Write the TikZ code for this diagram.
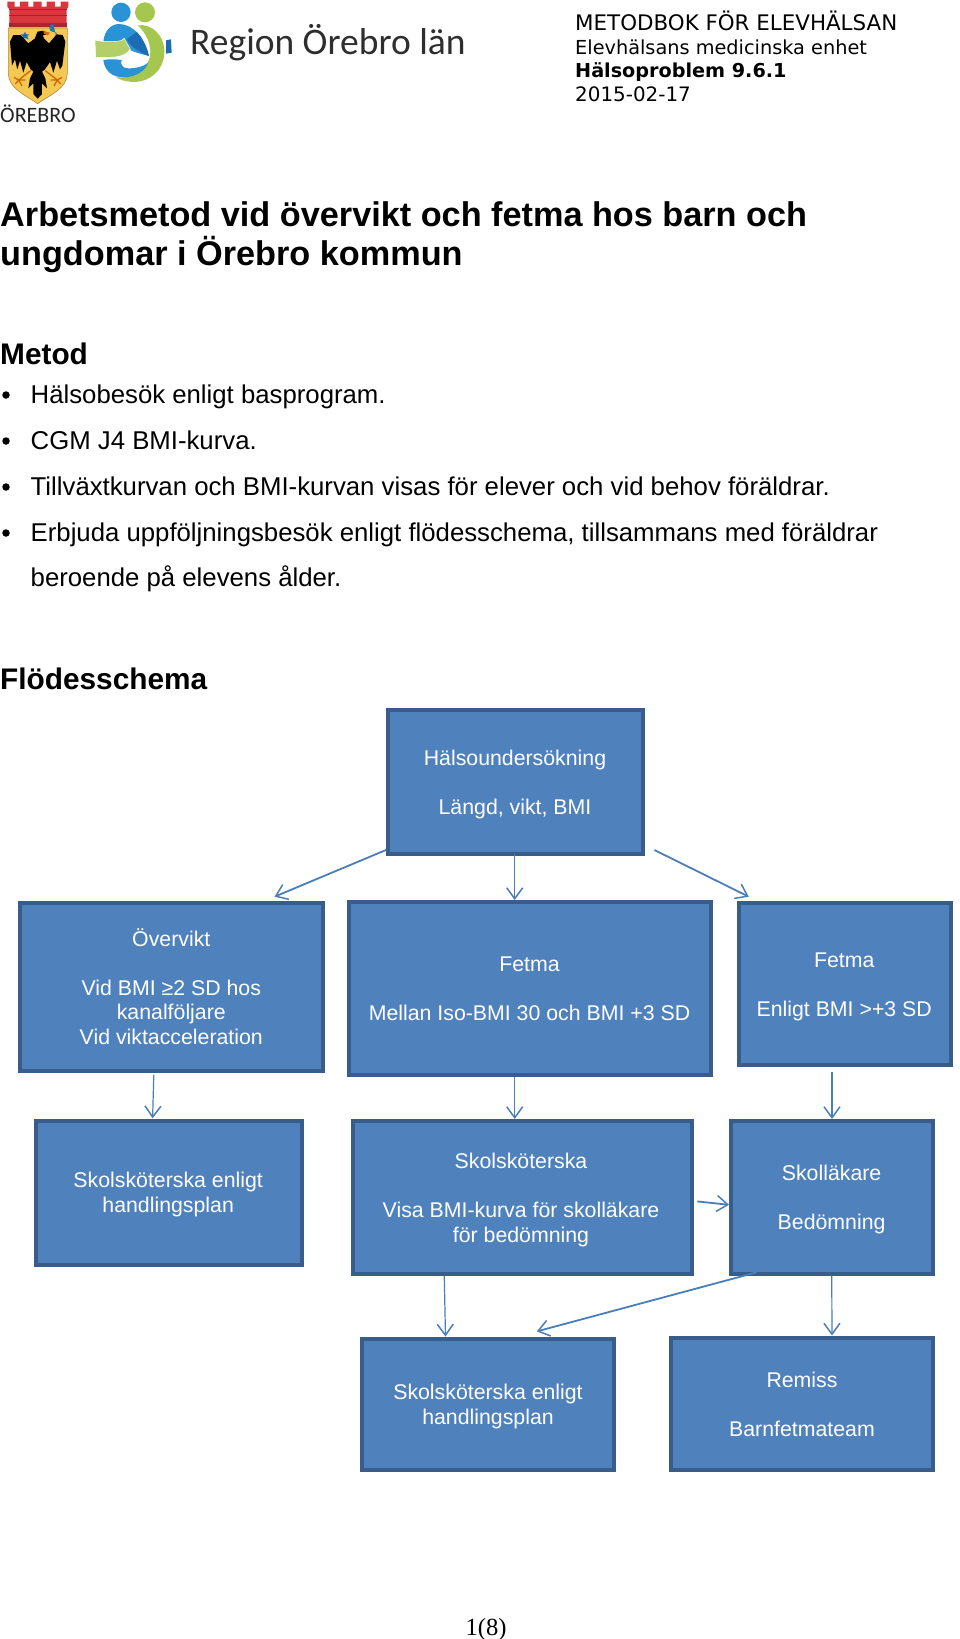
\documentclass[tikz,border=0pt]{standalone}
\usepackage{fontspec}
\setmainfont{Liberation Sans}
\newfontfamily\serifpg{Liberation Serif}
\newfontfamily\headfont{DejaVu Sans}
\newfontfamily\carl{Carlito}
\usetikzlibrary{arrows.meta}
\definecolor{boxfill}{HTML}{4F81BD}
\definecolor{boxline}{HTML}{385D8A}
\definecolor{arrowc}{HTML}{4A7EBB}
\definecolor{crownred}{HTML}{D9363E}
\definecolor{shieldy}{HTML}{F4C852}
\definecolor{logoblue}{HTML}{2A93D5}
\definecolor{logodark}{HTML}{1C6CB4}
\definecolor{logogreen}{HTML}{A5C750}
\tikzset{
  x=1pt,y=-1pt,
  flowbox/.style={draw=boxline,fill=boxfill,line width=4pt,outer sep=0pt,inner sep=0pt,rectangle},
  boxtext/.style={text=white,font=\fontsize{21.3}{24.6}\selectfont,align=center,inner sep=0pt},
  flowarrow/.style={draw=arrowc,line width=1.8pt,-{Straight Barb[length=11pt,width=16pt,line width=1.5pt]}},
  thinarrow/.style={flowarrow,line width=1.2pt},
  body/.style={anchor=base west,inner sep=0pt,font=\fontsize{25.75}{30}\selectfont},
  heading/.style={anchor=base west,inner sep=0pt,font=\fontsize{29.8}{34}\selectfont\bfseries},
  titletext/.style={anchor=base west,inner sep=0pt,font=\fontsize{34.25}{38}\selectfont\bfseries},
  headtext/.style={anchor=base west,inner sep=0pt,font=\fontsize{19.3}{23}\selectfont\headfont},
  bullet/.style={circle,fill=black,minimum size=7.5pt,inner sep=0pt},
}
\begin{document}
\begin{tikzpicture}
\useasboundingbox (0,0) rectangle (960,1639);
\fill[white] (0,0) rectangle (960,1639);
% crest
\begin{scope}[scale=1/3]
  \fill[crownred] (22,5)--(44,5)--(44,20)--(60,20)--(60,5)--(85,5)--(85,20)--(100,20)--(100,5)--(125,5)--(125,20)--(140,20)--(140,5)--(165,5)--(165,20)--(182,20)--(182,5)--(205,5)--(205,20)--(200,28)--(200,82)--(28,82)--(28,28)--(22,20)--cycle;
  \draw[crownred!70!black,line width=.5pt] (28,28)--(200,28) (28,45)--(200,45);
  \fill[crownred!75!black] (28,70) rectangle (200,82);
  \path[fill=shieldy,draw=shieldy!70!black,line width=.6pt] (25,84)--(202,84)--(202,220) .. controls (202,265) and (150,285) .. (113,311) .. controls (76,285) and (25,265) .. (25,220) --cycle;
  \fill[logodark] (75,96)--(79,103)--(87,103)--(82,110)--(86,118)--(75,114)--(65,118)--(69,110)--(63,103)--(71,103)--cycle;
  \fill[logoblue!80!black] (160,96) arc[start angle=90,end angle=270,radius=12] -- (170,118) arc[start angle=270,end angle=90,radius=9]--(170,98)--cycle;
  \draw[orange!80!black,line width=1.3pt] (92,212)--(56,240)--(42,232) (56,240)--(46,252) (56,240)--(66,258) (56,240)--(76,240);
  \draw[orange!80!black,line width=1.3pt] (136,212)--(172,240)--(186,232) (172,240)--(182,252) (172,240)--(162,258) (172,240)--(152,240);
  \fill[black] (105,115)--(85,130)--(62,105)--(40,105)--(30,125)--(36,197)--(45,178)--(52,208)--(60,182)--(70,218)--(80,186)--(92,208)--(100,215)--(90,235)--(85,265)--(100,250)--(100,282)--(113,296)--(126,282)--(126,250)--(141,265)--(136,235)--(126,215)--(135,208)--(150,186)--(160,218)--(171,182)--(180,208)--(187,197)--(196,125)--(188,105)--(170,103)--(147,130)--(132,115)--(128,106)--(148,102)--(130,92)--(112,95)--cycle;
  \fill[orange!85!black] (130,93)--(150,98)--(142,106)--(132,101)--cycle;
\end{scope}
\node[anchor=base west,inner sep=0pt,font=\fontsize{22}{24}\selectfont\carl,text=black!85] (orebro) at (0,122) {ÖREBRO};
% region logo
\begin{scope}[shift={(85,0)},scale=1/3]
  \fill[logoblue] (108,37) circle[radius=29];
  \fill[logogreen] (180,37) circle[radius=30];
  \fill[logodark] (243,121)--(258,118)--(260,158)--(243,161)--cycle;
  \fill[logogreen] (158,76) .. controls (200,70) and (240,105) .. (238,160) .. controls (235,215) and (190,245) .. (150,246) .. controls (125,246) and (105,240) .. (92,232) .. controls (130,235) and (180,225) .. (195,170) .. controls (200,135) and (185,100) .. (158,76) --cycle;
  \fill[logoblue] (55,125) .. controls (58,90) and (80,72) .. (102,72) .. controls (145,72) and (180,115) .. (192,168) .. controls (170,162) and (150,158) .. (136,150) -- (100,130) --cycle;
  \fill[logodark] (125,118) .. controls (135,135) and (150,150) .. (192,168) .. controls (185,140) and (172,112) .. (155,96) --cycle;
  \fill[logogreen!85!white,draw=white,line width=.5pt] (30,120) .. controls (60,128) and (90,125) .. (108,122) -- (118,115) .. controls (125,130) and (132,140) .. (136,148) .. controls (125,165) and (100,172) .. (72,172) -- (32,172) --cycle;
  \fill[logoblue] (55,180) .. controls (75,176) and (95,178) .. (110,180) .. controls (105,190) and (110,205) .. (130,205) .. controls (155,205) and (175,200) .. (190,188) .. controls (180,215) and (150,232) .. (115,232) .. controls (80,232) and (58,210) .. (55,180) --cycle;
\end{scope}
\node[anchor=base west,inner sep=0pt,font=\fontsize{37.5}{40}\selectfont\carl,text=black!82] (region) at (190,54.5) {Region Örebro län};
% header
\node[headtext,font=\fontsize{21.4}{23}\selectfont\headfont] (h1) at (575,30.7) {METODBOK FÖR ELEVHÄLSAN};
\node[headtext] (h2) at (575,54) {Elevhälsans medicinska enhet};
\node[headtext,font=\fontsize{19.2}{23}\selectfont\headfont\bfseries] (h3) at (575,77.7) {Hälsoproblem 9.6.1};
\node[headtext,font=\fontsize{19.9}{23}\selectfont\headfont] (h4) at (575,101) {2015-02-17};
% title
\node[titletext] (t1) at (0,226.7) {Arbetsmetod vid övervikt och fetma hos barn och};
\node[titletext] (t2) at (0,265.7) {ungdomar i Örebro kommun};
\node[heading] (metod) at (0,364) {Metod};
\node[bullet] (b1) at (6,395) {};
\node[bullet] (b2) at (6,441) {};
\node[bullet] (b3) at (6,487) {};
\node[bullet] (b4) at (6,533) {};
\node[body] (l1) at (30.5,403) {Hälsobesök enligt basprogram.};
\node[body] (l2) at (30.5,449) {CGM J4 BMI-kurva.};
\node[body] (l3) at (30.5,495) {Tillväxtkurvan och BMI-kurvan visas för elever och vid behov föräldrar.};
\node[body] (l4) at (30.5,541) {Erbjuda uppföljningsbesök enligt flödesschema, tillsammans med föräldrar};
\node[body] (l5) at (30.5,586) {beroende på elevens ålder.};
\node[heading] (flow) at (0,689) {Flödesschema};
% boxes
\node[flowbox,minimum width=255pt,minimum height=144pt,anchor=north west] (top) at (388,710) {};
\node[flowbox,minimum width=302.8pt,minimum height=168pt,anchor=north west] (over) at (20.2,903) {};
\node[flowbox,minimum width=362pt,minimum height=173pt,anchor=north west] (mid) at (349,902) {};
\node[flowbox,minimum width=212.5pt,minimum height=162pt,anchor=north west] (rightf) at (738.5,903) {};
\node[flowbox,minimum width=266.5pt,minimum height=144pt,anchor=north west] (skl) at (35.5,1121) {};
\node[flowbox,minimum width=339.5pt,minimum height=153pt,anchor=north west] (skm) at (352.5,1121) {};
\node[flowbox,minimum width=202.5pt,minimum height=153pt,anchor=north west] (skoll) at (730.5,1121) {};
\node[flowbox,minimum width=252pt,minimum height=131.5pt,anchor=north west] (skb) at (362,1338.5) {};
\node[flowbox,minimum width=262pt,minimum height=132.5pt,anchor=north west] (rem) at (671,1337.5) {};
% box texts
\node[boxtext] (ttop) at (515,785.3) {Hälsoundersökning\strut\\\strut\\Längd, vikt, BMI\strut};
\node[boxtext] (tover) at (171.3,990.1) {Övervikt\strut\\\strut\\Vid BMI ≥2 SD hos\strut\\kanalföljare\strut\\Vid viktacceleration\strut};
\node[boxtext] (tmid) at (529.5,991.3) {Fetma\strut\\\strut\\Mellan Iso-BMI 30 och BMI +3 SD\strut};
\node[boxtext] (trightf) at (844.2,987.3) {Fetma\strut\\\strut\\Enligt BMI >+3 SD\strut};
\node[boxtext] (tskl) at (168.2,1195) {Skolsköterska enligt\strut\\handlingsplan\strut};
\node[boxtext] (tskm) at (521,1200.6) {Skolsköterska\strut\\\strut\\Visa BMI-kurva för skolläkare\strut\\för bedömning\strut};
\node[boxtext] (tskoll) at (831.6,1200.4) {Skolläkare\strut\\\strut\\Bedömning\strut};
\node[boxtext] (tskb) at (488,1407.3) {Skolsköterska enligt\strut\\handlingsplan\strut};
\node[boxtext] (trem) at (802,1407.3) {Remiss\strut\\\strut\\Barnfetmateam\strut};
% connectors
\draw[flowarrow] ([xshift=-2pt,yshift=4pt]top.south west) -- ([xshift=102.9pt,yshift=6.3pt]over.north);
\draw[thinarrow] ([xshift=-.8pt]top.south) -- ([xshift=-15.3pt,yshift=2pt]mid.north);
\draw[flowarrow] ([xshift=11.4pt,yshift=4pt]top.south east) -- ([xshift=-96pt,yshift=6.3pt]rightf.north);
\draw[thinarrow] ([xshift=-17.8pt,yshift=-3.8pt]over.south) -- ([xshift=-16.15pt,yshift=2.7pt]skl.north);
\draw[thinarrow] ([xshift=-15.3pt,yshift=-2pt]mid.south) -- ([xshift=-7.55pt,yshift=2pt]skm.north);
\draw[thinarrow] ([xshift=-12.75pt,yshift=-6.8pt]rightf.south) -- ([xshift=.25pt,yshift=2pt]skoll.north);
\draw[flowarrow] ([xshift=5.3pt,yshift=-3.9pt]skm.east) -- ([xshift=-1.5pt,yshift=-7.3pt]skoll.west);
\draw[thinarrow] ([xshift=-78pt,yshift=-2pt]skm.south) -- ([xshift=-42.5pt,yshift=2pt]skb.north);
\draw[flowarrow] ([xshift=26.2pt,yshift=1.7pt]skoll.south west) -- ([xshift=48.8pt,yshift=7.1pt]skb.north);
\draw[thinarrow] ([yshift=-2pt]skoll.south) -- ([xshift=30pt,yshift=2pt]rem.north);
% page number
\node[anchor=base,inner sep=0pt,font=\fontsize{24.6}{28}\selectfont\serifpg] (page) at (486,1635) {1(8)};
\end{tikzpicture}
\end{document}
